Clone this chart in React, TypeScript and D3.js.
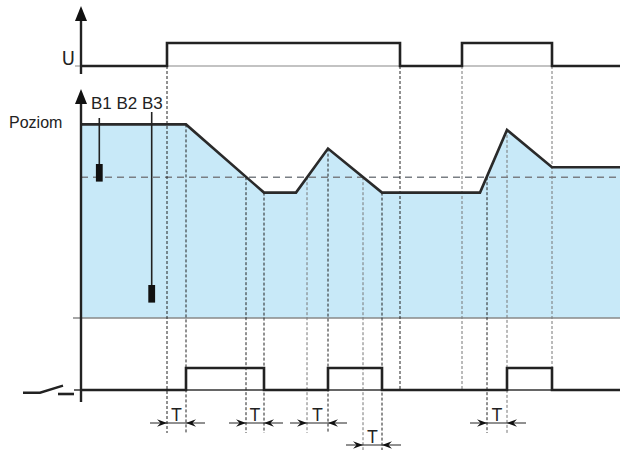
import { useEffect, useRef } from 'react';
import * as d3 from 'd3';

// time axis (arbitrary units) and signal data
const U_PULSES: [number, number][] = [[8.6, 31.9], [38.1, 47.1]];
const RELAY_PULSES: [number, number][] = [[10.5, 18.3], [24.7, 30.1], [42.6, 47.1]];

const LEVEL_T = [0, 10.5, 18.3, 21.5, 24.7, 30.1, 39.9, 42.6, 47.1, 54];
const LEVEL_V = [8.8, 8.8, 5.7, 5.7, 7.7, 5.7, 5.7, 8.55, 6.85, 6.85];
const THRESHOLD = 6.4;

// sensors hanging into the tank: time position, bottom and top of the float
const SENSOR_NAMES = ['B1', 'B3'];
const SENSOR_T = [1.83, 7.07];
const SENSOR_LOW = [6.2, 0.7];
const SENSOR_HIGH = [7.0, 1.5];

// dotted guides: time, where they start, where they stop, dark or grey
const GUIDE_T = [8.6, 10.5, 16.5, 18.3, 22.6, 24.7, 28.2, 30.1, 31.9, 38.1, 40.6, 42.6, 47.1];
const GUIDE_FROM = ['u', 'level', 'th', 'level', 'th', 'level', 'th', 'level', 'u', 'u', 'th', 'level', 'u'];
const GUIDE_TO = ['T0', 'T0', 'T0', 'T0', 'T0', 'T0', 'T1', 'T1', 'relay0', 'relay0', 'T0', 'T0', 'relay1'];
const GUIDE_DARK = [true, true, true, true, false, true, false, true, true, false, true, false, false];

// delay marks "T": start, end, row
const DELAY_START = [8.6, 16.5, 22.6, 28.2, 40.6];
const DELAY_END = [10.5, 18.3, 24.7, 30.1, 42.6];
const DELAY_ROW = [0, 0, 0, 1, 0];

const W = 620, H = 450;
const FONT = '"Liberation Sans", Arial, sans-serif';
const NARROW = '"Liberation Sans Narrow", "DejaVu Sans Condensed", "Liberation Sans", sans-serif';

const pulsesToSteps = (pulses: [number, number][], end: number) => {
  const pts: [number, number][] = [[0, 0]];
  pulses.forEach(([a, b]) => { pts.push([a, 1]); pts.push([b, 0]); });
  pts.push([end, 0]);
  return pts;
};

export default function App() {
  const ref = useRef<SVGSVGElement | null>(null);

  useEffect(() => {
    const svg = d3.select(ref.current);
    svg.selectAll('*').remove();

    const axisX = 81;
    const x = d3.scaleLinear().domain([0, 54]).range([axisX, 621]);
    const yU = d3.scaleLinear().domain([0, 1]).range([66, 43]);
    const yL = d3.scaleLinear().domain([0, 10]).range([318, 98]);
    const yR = d3.scaleLinear().domain([0, 1]).range([390, 368]);
    const tRowY = [423, 445];

    const levelData = LEVEL_T.map((t, i) => ({ t, v: LEVEL_V[i] }));
    const levelAt = (t: number) => {
      for (let i = 1; i < levelData.length; i++) {
        const a = levelData[i - 1], b = levelData[i];
        if (t <= b.t) return a.v + (b.v - a.v) * (t - a.t) / (b.t - a.t);
      }
      return levelData[levelData.length - 1].v;
    };

    // tank fill
    svg.append('path')
      .datum(levelData)
      .attr('fill', '#c8e9f8')
      .attr('d', d3.area<{ t: number; v: number }>().x(d => x(d.t)).y0(yL(0)).y1(d => yL(d.v)));

    // baselines
    svg.append('line').attr('x1', 75).attr('x2', W).attr('y1', yU(0)).attr('y2', yU(0))
      .attr('stroke', '#888').attr('stroke-width', 1.2);
    svg.append('line').attr('x1', 73).attr('x2', W).attr('y1', yL(0)).attr('y2', yL(0))
      .attr('stroke', '#888').attr('stroke-width', 1.5);
    svg.append('line').attr('x1', 74).attr('x2', W).attr('y1', yR(0)).attr('y2', yR(0))
      .attr('stroke', '#333').attr('stroke-width', 1.3);

    // threshold
    svg.append('line').attr('x1', axisX).attr('x2', W).attr('y1', yL(THRESHOLD)).attr('y2', yL(THRESHOLD))
      .attr('stroke', '#7a7f84').attr('stroke-width', 1.6).attr('stroke-dasharray', '7,5');

    // dotted guides
    const guideTop = (i: number) => {
      if (GUIDE_FROM[i] === 'u') return yU(0);
      if (GUIDE_FROM[i] === 'th') return yL(THRESHOLD);
      return yL(levelAt(GUIDE_T[i]));
    };
    const guideBottom = (i: number) => {
      const to = GUIDE_TO[i];
      if (to === 'T0') return tRowY[0] + 10;
      if (to === 'T1') return H;
      if (to === 'relay0') return yR(0);
      return yR(1);
    };
    svg.append('g').selectAll('line')
      .data(GUIDE_T)
      .enter()
      .append('line')
      .attr('x1', d => x(d)).attr('x2', d => x(d))
      .attr('y1', (_, i) => guideTop(i))
      .attr('y2', (_, i) => guideBottom(i))
      .attr('stroke', (_, i) => GUIDE_DARK[i] ? '#222' : '#777')
      .attr('stroke-width', 1)
      .attr('stroke-dasharray', '3,2');

    // level line
    svg.append('path')
      .datum(levelData)
      .attr('fill', 'none')
      .attr('stroke', '#2a2a2a')
      .attr('stroke-width', 2.6)
      .attr('stroke-linejoin', 'miter')
      .attr('d', d3.line<{ t: number; v: number }>().x(d => x(d.t)).y(d => yL(d.v)));

    // step signals
    const stepLine = (y: d3.ScaleLinear<number, number>) =>
      d3.line<[number, number]>().x(d => x(d[0])).y(d => y(d[1])).curve(d3.curveStepAfter);
    svg.append('path')
      .datum(pulsesToSteps(U_PULSES, 54))
      .attr('fill', 'none').attr('stroke', '#222').attr('stroke-width', 2.6)
      .attr('d', stepLine(yU));
    svg.append('path')
      .datum(pulsesToSteps(RELAY_PULSES, 54))
      .attr('fill', 'none').attr('stroke', '#222').attr('stroke-width', 2.6)
      .attr('d', stepLine(yR));

    // axes with arrow heads
    svg.append('line').attr('x1', axisX).attr('x2', axisX).attr('y1', 18).attr('y2', 74)
      .attr('stroke', '#222').attr('stroke-width', 2.4);
    svg.append('line').attr('x1', axisX).attr('x2', axisX).attr('y1', 98).attr('y2', 402)
      .attr('stroke', '#222').attr('stroke-width', 2.4);
    [6, 89].forEach(tip => {
      svg.append('path')
        .attr('d', `M${axisX},${tip} L${axisX + 6},${tip + 15} L${axisX - 6},${tip + 15} Z`)
        .attr('fill', '#111');
    });

    // sensors
    SENSOR_NAMES.forEach((_, i) => {
      const sx = x(SENSOR_T[i]);
      svg.append('line').attr('x1', sx).attr('x2', sx)
        .attr('y1', i === 0 ? 118 : 112).attr('y2', yL(SENSOR_HIGH[i]))
        .attr('stroke', '#222').attr('stroke-width', 1.6);
      svg.append('rect')
        .attr('x', sx - 3.4).attr('width', 6.8)
        .attr('y', yL(SENSOR_HIGH[i])).attr('height', yL(SENSOR_LOW[i]) - yL(SENSOR_HIGH[i]))
        .attr('fill', '#111');
    });

    // labels
    svg.append('text').attr('x', 75).attr('y', 65).attr('text-anchor', 'end')
      .style('font-family', NARROW).style('font-size', '20px').style('fill', '#222').text('U');
    svg.append('text').attr('x', 9).attr('y', 128)
      .style('font-family', FONT).style('font-size', '16px').style('fill', '#222').text('Poziom');
    svg.append('text').attr('x', 91).attr('y', 109)
      .style('font-family', FONT).style('font-size', '17px').style('fill', '#222').text('B1 B2 B3');

    // switch symbol
    svg.append('path')
      .attr('d', 'M23,392.7 L40,392.7 L63,385.7')
      .attr('fill', 'none').attr('stroke', '#222').attr('stroke-width', 2.4);
    svg.append('line').attr('x1', 58).attr('x2', 74).attr('y1', 394).attr('y2', 394)
      .attr('stroke', '#222').attr('stroke-width', 2.6);

    // delay marks
    const arrowHead = (tipX: number, y: number, dir: number) =>
      `M${tipX},${y} L${tipX - dir * 10},${y - 3.8} L${tipX - dir * 6.5},${y} L${tipX - dir * 10},${y + 3.8} Z`;
    DELAY_START.forEach((s, i) => {
      const y = tRowY[DELAY_ROW[i]];
      const a = x(s), b = x(DELAY_END[i]);
      svg.append('line').attr('x1', a - 17).attr('x2', b + 19).attr('y1', y).attr('y2', y)
        .attr('stroke', '#222').attr('stroke-width', 1);
      svg.append('path').attr('d', arrowHead(a, y, 1)).attr('fill', '#111');
      svg.append('path').attr('d', arrowHead(b, y, -1)).attr('fill', '#111');
      svg.append('text').attr('x', (a + b) / 2).attr('y', y - 2).attr('text-anchor', 'middle')
        .style('font-family', NARROW).style('font-size', '18px').style('fill', '#222').text('T');
    });
  }, []);

  return (
    <svg ref={ref} width={W} height={H}
      style={{ position: 'absolute', left: 0, top: 0, background: '#fff', display: 'block' }} />
  );
}
